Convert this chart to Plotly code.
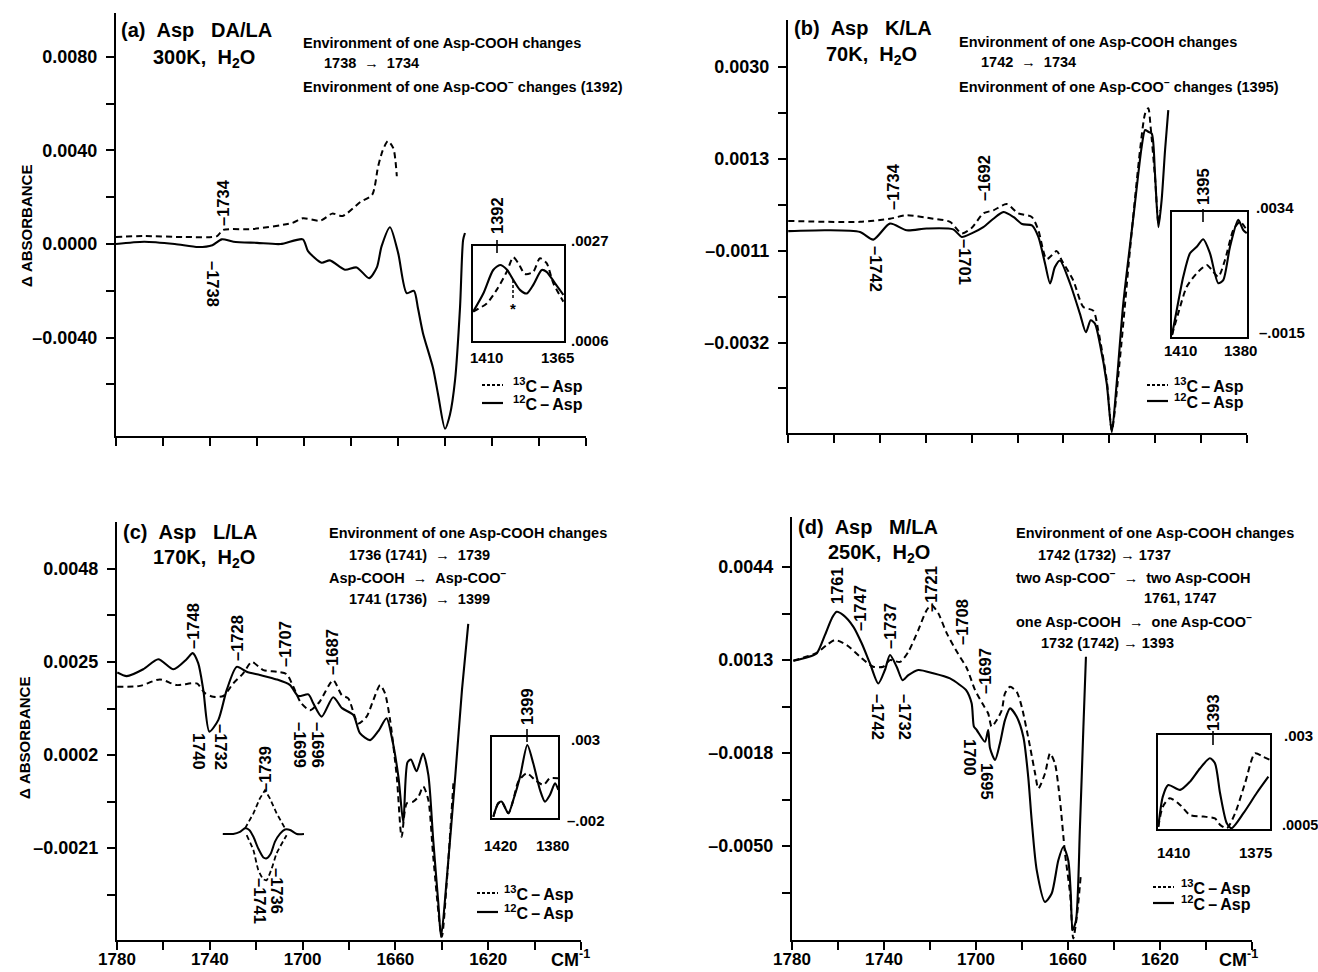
import plotly.graph_objects as go

W, H = 1318, 972
FONT = "Liberation Sans, Arial, Helvetica, sans-serif"

# ---------------- Panel (a)  Asp DA/LA 300K ----------------
a_wn_12C = [1780, 1768, 1755, 1745, 1739, 1735, 1730, 1720, 1710, 1700.5, 1698.3, 1692.5, 1689, 1682.6, 1677.6,
            1672.3, 1669, 1667, 1663.4, 1659.9, 1656.3, 1653.2, 1651.5, 1649.4, 1645.1, 1643.0, 1640.0, 1637.9,
            1635.7, 1633.6, 1632.3, 1631.5]
a_dA_12C = [0.0, 0.0001, 0.0, -0.00013, -0.00005, 0.0002, 0.0001, 0.00005, 0.0, 0.0002, -0.0003, -0.0008, -0.0007,
            -0.0011, -0.0010, -0.00146, -0.0010, -0.0001, 0.00072, -0.0004, -0.0021, -0.0020, -0.00275, -0.0038,
            -0.0053, -0.0064, -0.0079, -0.0073, -0.0058, -0.0027, 0.00017, 0.00047]
a_wn_13C = [1780, 1768, 1751, 1737, 1734.5, 1722, 1705, 1700.5, 1693, 1688, 1683.5, 1676, 1671, 1668.5, 1666.5,
            1664.3, 1662, 1660.5]
a_dA_13C = [0.0003, 0.00034, 0.0003, 0.00034, 0.0006, 0.00064, 0.0009, 0.0011, 0.0010, 0.0013, 0.0012, 0.0018,
            0.0021, 0.0033, 0.0040, 0.0044, 0.0041, 0.0029]
ai_wn_12C = [1409.9, 1404.9, 1400.0, 1396.6, 1393.3, 1390.1, 1386.8, 1383.4, 1380.2, 1376.0, 1373.6, 1369.5, 1365.3]
ai_dA_12C = [0.00125, 0.00165, 0.00217, 0.00228, 0.00218, 0.00195, 0.00173, 0.00165, 0.00184, 0.00217, 0.00213,
             0.00188, 0.00162]
ai_wn_13C = [1409.9, 1403.2, 1398.3, 1393.3, 1390.1, 1387.6, 1384.3, 1380.2, 1376.9, 1373.6, 1370.3, 1365.3]
ai_dA_13C = [0.00125, 0.00143, 0.00173, 0.00213, 0.00245, 0.00232, 0.00208, 0.00213, 0.00243, 0.00232, 0.00188,
             0.00147]

# ---------------- Panel (b)  Asp K/LA 70K ----------------
b_wn_12C = [1779.9, 1763.1, 1748.6, 1742.8, 1735.6, 1728.3, 1719.6, 1708.0, 1704.3, 1700.0, 1694.9, 1690.5, 1686.2,
            1681.8, 1678.0, 1673.7, 1670.9, 1668.0, 1665.8, 1663.7, 1661.5, 1657.1, 1652.8, 1650.2, 1648.1, 1646.2,
            1644.1, 1641.1, 1638.9, 1636.8, 1633.9, 1629.5, 1625.9, 1624.4, 1623.0, 1621.5, 1620.1, 1618.6, 1617.2,
            1615.7, 1614.3]
b_dA_12C = [-0.00070, -0.00068, -0.00072, -0.00089, -0.00053, -0.00068, -0.00064, -0.00066, -0.00083, -0.00075,
            -0.00061, -0.00042, -0.00027, -0.00038, -0.00054, -0.00057, -0.00083, -0.00143, -0.00188, -0.00151,
            -0.00136, -0.00188, -0.00256, -0.00298, -0.00271, -0.00279, -0.00324, -0.00414, -0.00523, -0.00414,
            -0.00233, -0.00038, 0.00120, 0.00158, 0.00154, 0.00150, 0.00060, -0.00061, 0.0, 0.00113, 0.00203]
b_wn_13C = [1779.9, 1748.6, 1735.6, 1728.3, 1716.7, 1709.4, 1704.3, 1700.0, 1694.9, 1690.5, 1684.7, 1679.7, 1673.8,
            1670.9, 1667.3, 1662.9, 1660.7, 1655.7, 1651.3, 1647.0, 1644.8, 1641.1, 1638.9, 1635.3, 1631.0, 1626.6,
            1624.4, 1623.0, 1622.0, 1620.1, 1618.6, 1617.9]
b_dA_13C = [-0.00047, -0.00049, -0.00042, -0.00034, -0.00042, -0.00049, -0.00075, -0.00063, -0.00030, -0.00023,
            -0.00009, -0.00030, -0.00038, -0.00068, -0.00133, -0.00115, -0.00136, -0.00181, -0.00241, -0.00249,
            -0.00294, -0.00407, -0.00519, -0.00354, -0.00113, 0.00113, 0.00195, 0.00207, 0.00165, 0.00052,
            -0.00053, -0.00023]
bi_wn_12C = [1410.0, 1408.1, 1405.5, 1402.8, 1400.1, 1397.5, 1394.8, 1391.5, 1389.5, 1386.8, 1383.5, 1381.5, 1380.1]
bi_dA_12C = [-0.00142, -0.00044, 0.00086, 0.00178, 0.00204, 0.00233, 0.00178, 0.00061, 0.00073, 0.00204, 0.00309,
             0.00269, 0.00257]
bi_wn_13C = [1410.0, 1407.5, 1404.1, 1400.1, 1396.1, 1394.1, 1391.5, 1388.8, 1385.5, 1382.8, 1380.1]
bi_dA_13C = [-0.00142, -0.00057, 0.00047, 0.0010, 0.00132, 0.00113, 0.00086, 0.00152, 0.00269, 0.00302, 0.00269]

# ---------------- Panel (c)  Asp L/LA 170K ----------------
c_wn_12C = [1779.9, 1775.8, 1768.7, 1762.2, 1755.7, 1750.0, 1747.4, 1745.0, 1742.8, 1740.2, 1736.3, 1732.7, 1728.4,
            1724.1, 1718.4, 1711.2, 1705.4, 1701.9, 1697.5, 1695.4, 1691.8, 1686.8, 1683.0, 1678.1, 1675.3, 1670.9,
            1667.4, 1663.8, 1661.5, 1658.7, 1656.6, 1654.8, 1653.3, 1650.9, 1648.1, 1645.8, 1643.7, 1641.5, 1640.3,
            1637.9, 1634.1, 1631.3, 1628.6]
c_dA_12C = [0.00224, 0.00215, 0.00232, 0.00257, 0.00232, 0.00257, 0.00272, 0.00247, 0.00181, 0.00078, 0.00107,
            0.00181, 0.00238, 0.00226, 0.00218, 0.00207, 0.00193, 0.00166, 0.00170, 0.00148, 0.00115, 0.00163,
            0.00136, 0.00119, 0.00074, 0.00057, 0.00079, 0.00111, 0.00062, -0.00034, -0.00147, 0.00002, 0.00009,
            -0.00020, 0.00024, -0.00029, -0.00190, -0.00346, -0.00430, -0.00289, -0.00025, 0.00181, 0.00344]
c_wn_13C = [1779.9, 1770.1, 1761.5, 1754.3, 1745.6, 1742.1, 1738.5, 1734.2, 1729.9, 1725.6, 1721.9, 1716.9, 1711.2,
            1706.9, 1704.0, 1700.7, 1696.8, 1692.9, 1686.8, 1683.1, 1680.3, 1676.0, 1672.4, 1669.5, 1666.6, 1664.5,
            1662.3, 1659.4, 1657.3, 1655.1, 1652.3, 1650.1, 1648.0, 1645.8, 1643.7, 1640.0, 1637.9, 1635.0]
c_dA_13C = [0.00189, 0.00191, 0.00207, 0.00193, 0.00197, 0.00173, 0.00164, 0.00166, 0.00197, 0.00222, 0.00250,
            0.00230, 0.00226, 0.00220, 0.00189, 0.00149, 0.00131, 0.00150, 0.00205, 0.00168, 0.00160, 0.00098,
            0.00115, 0.00156, 0.00193, 0.00173, 0.00107, -0.00034, -0.00182, -0.00099, -0.00095, -0.00083,
            -0.00058, -0.00091, -0.00231, -0.00429, -0.00297, -0.00050]
# schematic band sketch (1739 / 1736 / 1741)
cs_wn_12C = [1734.4, 1729.9, 1727.0, 1724.8, 1723.0, 1721.2, 1719.1, 1716.9, 1715.5, 1713.7, 1711.9, 1709.7, 1707.6,
             1705.4, 1702.5, 1699.4]
cs_dA_12C = [-0.00175, -0.00175, -0.00170, -0.00161, -0.00165, -0.00182, -0.00211, -0.00233, -0.00235, -0.00223,
             -0.00194, -0.00174, -0.00164, -0.00165, -0.00175, -0.00175]
cs_wn_13C_up = [1724.8, 1721.2, 1718.4, 1716.2, 1714.1, 1711.2, 1707.6]
cs_dA_13C_up = [-0.00161, -0.00124, -0.00087, -0.00067, -0.00087, -0.00124, -0.00161]
cs_wn_13C_dn = [1724.1, 1721.2, 1719.1, 1716.9, 1715.5, 1713.3, 1711.2, 1706.9]
cs_dA_13C_dn = [-0.00178, -0.00215, -0.00264, -0.00287, -0.00289, -0.00260, -0.00223, -0.00178]
ci_wn_12C = [1419.2, 1416.2, 1414.1, 1410.1, 1407.1, 1403.0, 1398.6, 1395.0, 1390.9, 1387.9, 1384.9, 1381.8, 1379.8]
ci_dA_12C = [-0.00192, -0.00109, -0.00099, -0.00171, -0.00089, 0.00055, 0.00251, 0.00138, -0.00027, -0.00099,
             -0.00058, 0.00014, -0.00027]
ci_wn_13C = [1419.2, 1416.2, 1414.1, 1410.1, 1407.1, 1404.1, 1399.0, 1393.9, 1388.9, 1384.9, 1379.8]
ci_dA_13C = [-0.00192, -0.00109, -0.00099, -0.00171, -0.00089, 0.00024, 0.00076, 0.00035, 0.00004, 0.00045, 0.00045]

# ---------------- Panel (d)  Asp M/LA 250K ----------------
d_wn_12C = [1779.4, 1773.6, 1769.3, 1765.7, 1762.7, 1760.6, 1757.7, 1753.3, 1749.7, 1746.1, 1742.5, 1739.6, 1737.4,
            1734.5, 1731.9, 1729.4, 1725.1, 1718.6, 1711.3, 1707.0, 1704.3, 1701.9, 1700.9, 1699.7, 1696.1, 1694.7,
            1693.9, 1691.7, 1689.6, 1687.4, 1685.2, 1682.3, 1679.4, 1677.3, 1675.8, 1673.6, 1670.0, 1667.1, 1664.2,
            1662.0, 1659.9, 1658.8, 1658.0, 1656.5, 1654.8, 1653.3, 1652.2]
d_dA_12C = [0.00128, 0.00139, 0.00152, 0.00213, 0.00269, 0.00291, 0.00280, 0.00241, 0.00186, 0.00119, 0.00052,
            0.00097, 0.00147, 0.00108, 0.00063, 0.00080, 0.00097, 0.00086, 0.00069, 0.00047, 0.00030, -0.00014,
            -0.00092, -0.00103, -0.00142, -0.00103, -0.00164, -0.00203, -0.00148, -0.00070, -0.00031, -0.00059,
            -0.00126, -0.00259, -0.00403, -0.00570, -0.00676, -0.00648, -0.00537, -0.00492, -0.00537, -0.00648,
            -0.00770, -0.00737, -0.00426, -0.00092, 0.00141]
d_wn_13C = [1779.4, 1769.3, 1764.9, 1761.3, 1756.2, 1750.4, 1744.7, 1740.3, 1737.4, 1733.0, 1729.4, 1725.1, 1721.4,
            1719.3, 1716.4, 1712.7, 1707.7, 1704.0, 1700.4, 1696.8, 1694.7, 1693.2, 1691.0, 1688.8, 1687.4, 1685.2,
            1682.3, 1680.1, 1676.5, 1674.3, 1672.9, 1670.0, 1667.8, 1665.7, 1663.5, 1661.3, 1659.1, 1657.7, 1656.0,
            1654.5]
d_dA_13C = [0.00128, 0.00154, 0.00180, 0.00197, 0.00180, 0.00141, 0.00108, 0.00108, 0.00130, 0.00124, 0.00158,
            0.00230, 0.00297, 0.00313, 0.00286, 0.00219, 0.00150, 0.00103, 0.00030, -0.00020, -0.00048, -0.00092,
            -0.00070, -0.00037, 0.00019, 0.00041, 0.00024, -0.00026, -0.00159, -0.00248, -0.00298, -0.00248,
            -0.00181, -0.00214, -0.00337, -0.00514, -0.00648, -0.00798, -0.00714, -0.00592]
di_wn_12C = [1409.9, 1408.5, 1406.8, 1403.1, 1400.0, 1396.9, 1393.8, 1392.2, 1390.6, 1388.5, 1387.0, 1383.3, 1379.2,
             1375.5]
di_dA_12C = [0.00056, 0.00136, 0.00167, 0.00154, 0.00176, 0.00211, 0.00238, 0.00225, 0.00145, 0.00065, 0.00052,
             0.00092, 0.00145, 0.00189]
di_wn_13C = [1409.9, 1408.5, 1406.3, 1403.1, 1400.0, 1395.8, 1392.2, 1390.6, 1388.5, 1385.9, 1382.8, 1379.7, 1377.1,
             1375.0]
di_dA_13C = [0.00056, 0.00109, 0.00132, 0.00114, 0.00087, 0.00083, 0.00078, 0.00061, 0.00052, 0.00092, 0.00172,
             0.00251, 0.00242, 0.00234]

# ---------------- ticks ----------------
x_major = [1780, 1740, 1700, 1660, 1620]
x_major_text = ["1780", "1740", "1700", "1660", "1620"]
x_minor = [1760, 1720, 1680, 1640, 1600, 1580]
a_ymajor = [0.008, 0.004, 0.0, -0.004]
a_ytext = ["0.0080", "0.0040", "0.0000", "\u20130.0040"]
a_yminor = [0.006, 0.002, -0.002, -0.006]
b_ymajor = [0.0030, 0.00093, -0.00114, -0.00321]
b_ytext = ["0.0030", "0.0013", "\u20130.0011", "\u20130.0032"]
b_yminor = [0.001965, -0.000105, -0.002175, -0.004245]
c_ymajor = [0.0048, 0.0025, 0.0002, -0.0021]
c_ytext = ["0.0048", "0.0025", "0.0002", "\u20130.0021"]
c_yminor = [0.00365, 0.00135, -0.00095, -0.00325]
d_ymajor = [0.0044, 0.0013, -0.0018, -0.0049]
d_ytext = ["0.0044", "0.0013", "\u20130.0018", "\u20130.0050"]
d_yminor = [0.00285, -0.00025, -0.00335, -0.00645]


def dom_x(x0, x1):
    return [x0 / W, x1 / W]


def dom_y(top, bottom):
    return [1 - bottom / H, 1 - top / H]


fig = go.Figure()

SOLID = dict(color="black", width=2.1, shape="spline", smoothing=0.7)
DASH = dict(color="black", width=2.0, dash="6px,4px", shape="spline", smoothing=0.7)


def add(x, y, ax, line):
    xa = "x" if ax == 1 else f"x{ax}"
    ya = "y" if ax == 1 else f"y{ax}"
    fig.add_trace(go.Scatter(x=x, y=y, mode="lines", line=line, xaxis=xa, yaxis=ya,
                             showlegend=False, hoverinfo="skip"))


add(a_wn_13C, a_dA_13C, 1, DASH)
add(a_wn_12C, a_dA_12C, 1, SOLID)
add(b_wn_13C, b_dA_13C, 2, DASH)
add(b_wn_12C, b_dA_12C, 2, SOLID)
add(c_wn_13C, c_dA_13C, 3, DASH)
add(c_wn_12C, c_dA_12C, 3, SOLID)
add(cs_wn_13C_up, cs_dA_13C_up, 3, dict(color="black", width=1.8, dash="5px,3px"))
add(cs_wn_13C_dn, cs_dA_13C_dn, 3, dict(color="black", width=1.8, dash="5px,3px", shape="spline", smoothing=0.6))
add(cs_wn_12C, cs_dA_12C, 3, dict(color="black", width=2.0, shape="spline", smoothing=0.6))
add(d_wn_13C, d_dA_13C, 4, DASH)
add(d_wn_12C, d_dA_12C, 4, SOLID)
add(ai_wn_13C, ai_dA_13C, 5, DASH)
add(ai_wn_12C, ai_dA_12C, 5, SOLID)
add(bi_wn_13C, bi_dA_13C, 6, DASH)
add(bi_wn_12C, bi_dA_12C, 6, SOLID)
add(ci_wn_13C, ci_dA_13C, 7, DASH)
add(ci_wn_12C, ci_dA_12C, 7, SOLID)
add(di_wn_13C, di_dA_13C, 8, DASH)
add(di_wn_12C, di_dA_12C, 8, SOLID)

TICKFONT = dict(family=FONT, size=18, color="black", weight="bold")


def minor(vals):
    return dict(tickmode="array", tickvals=vals, ticks="outside", ticklen=8, tickwidth=2, tickcolor="black",
                showgrid=False)


def main_x(domain, anchor, labels):
    return dict(domain=domain, anchor=anchor, range=[1780, 1580], autorange=False, automargin=False,
                showline=True, linecolor="black", linewidth=2, ticks="outside", ticklen=8,
                tickwidth=2, tickcolor="black", tickmode="array", tickvals=x_major, ticktext=x_major_text,
                showticklabels=labels, minor=minor(x_minor),
                showgrid=False, zeroline=False, tickfont=dict(family=FONT, size=17, color="black", weight="bold"),
                ticklabelstandoff=-5)


def main_y(domain, anchor, rng, tv, tt, mv):
    return dict(domain=domain, anchor=anchor, range=rng, autorange=False, automargin=False,
                showline=True, linecolor="black", linewidth=2, ticks="outside", ticklen=8,
                tickwidth=2, tickcolor="black", tickmode="array", tickvals=tv, ticktext=tt, minor=minor(mv),
                showgrid=False, zeroline=False, tickfont=TICKFONT, ticklabelstandoff=5)


def inset_ax(domain, anchor, rng):
    return dict(domain=domain, anchor=anchor, range=rng, autorange=False, automargin=False, showline=True,
                mirror=True, linecolor="black", linewidth=2, ticks="", showticklabels=False, showgrid=False,
                zeroline=False)


layout = dict(
    template="none",
    width=W, height=H, margin=dict(l=0, r=0, t=0, b=0, pad=0, autoexpand=False),
    paper_bgcolor="white", plot_bgcolor="rgba(0,0,0,0)",
    font=dict(family=FONT, color="black"), showlegend=False,
    xaxis=main_x(dom_x(116, 586), "y", False),
    yaxis=main_y(dom_y(13, 436), "x", [-0.00821, 0.00988], a_ymajor, a_ytext, a_yminor),
    xaxis2=main_x(dom_x(788, 1247), "y2", False),
    yaxis2=main_y(dom_y(20, 433), "x2", [-0.00525, 0.00406], b_ymajor, b_ytext, b_yminor),
    xaxis3=main_x(dom_x(117, 581), "y3", True),
    yaxis3=main_y(dom_y(522, 940), "x3", [-0.00437, 0.00596], c_ymajor, c_ytext, c_yminor),
    xaxis4=main_x(dom_x(792, 1252), "y4", True),
    yaxis4=main_y(dom_y(517, 940), "x4", [-0.00803, 0.00607], d_ymajor, d_ytext, d_yminor),
    xaxis5=inset_ax(dom_x(473, 564), "y5", [1410, 1365]),
    yaxis5=inset_ax(dom_y(246, 341), "x5", [0.0006, 0.0027]),
    xaxis6=inset_ax(dom_x(1172, 1247), "y6", [1410, 1380]),
    yaxis6=inset_ax(dom_y(212, 337), "x6", [-0.0015, 0.0034]),
    xaxis7=inset_ax(dom_x(492, 558), "y7", [1420, 1380]),
    yaxis7=inset_ax(dom_y(737, 818), "x7", [-0.002, 0.003]),
    xaxis8=inset_ax(dom_x(1158, 1270), "y8", [1410, 1375]),
    yaxis8=inset_ax(dom_y(735, 829), "x8", [0.0005, 0.003]),
)
fig.update_layout(**layout)

ann = []


def A(text, x, y, size=14.5, xanchor="left", angle=0):
    ann.append(dict(text=text, x=x / W, y=1 - y / H, xref="paper", yref="paper", showarrow=False,
                    xanchor=xanchor, yanchor="middle", textangle=angle, borderpad=0,
                    font=dict(family=FONT, size=size, color="black", weight="bold")))


NB = "\u00a0"
AR = NB + NB + "\u2192" + NB + NB
# titles
for t, x, y in [("(a)" + NB * 2 + "Asp" + NB * 3 + "DA/LA", 120, 30), ("300K," + NB * 2 + "H<sub>2</sub>O", 152, 58),
                ("(b)" + NB * 2 + "Asp" + NB * 3 + "K/LA", 793, 28), ("70K," + NB * 2 + "H<sub>2</sub>O", 825, 56),
                ("(c)" + NB * 2 + "Asp" + NB * 3 + "L/LA", 122, 532), ("170K," + NB * 2 + "H<sub>2</sub>O", 152, 558),
                ("(d)" + NB * 2 + "Asp" + NB * 3 + "M/LA", 797, 527), ("250K," + NB * 2 + "H<sub>2</sub>O", 827, 553)]:
    A(t, x, y, size=20)

COO = "Asp-COO<sup>\u2212</sup>"
ENV = "Environment of one Asp-COOH changes"
for t, x, y in [(ENV, 302, 43), ("1738" + AR + "1734", 323, 63), ("Environment of one " + COO + " changes (1392)", 302, 86),
                (ENV, 958, 42), ("1742" + AR + "1734", 980, 62), ("Environment of one " + COO + " changes (1395)", 958, 86),
                (ENV, 328, 533), ("1736 (1741)" + AR + "1739", 348, 555), ("Asp-COOH" + AR + COO, 328, 577),
                ("1741 (1736)" + AR + "1399", 348, 599),
                (ENV, 1015, 533), ("1742 (1732)" + NB + "\u2192" + NB + "1737", 1037, 555),
                ("two " + COO + AR + "two Asp-COOH", 1015, 577), ("1761, 1747", 1143, 598),
                ("one Asp-COOH" + AR + "one " + COO, 1015, 621), ("1732 (1742)" + NB + "\u2192" + NB + "1393", 1040, 643)]:
    A(t, x, y, size=14.5)

# peak labels
D = "\u2013"
for t, x, y, ang in [(D + "1734", 223, 203, -90), (D + "1738", 213, 284, 90),
                     (D + "1734", 893, 187, -90), (D + "1692", 984, 178, -90), (D + "1742", 876, 269, 90),
                     (D + "1701", 965, 262, 90),
                     (D + "1748", 193, 626, -90), (D + "1728", 237, 638, -90), (D + "1707", 285, 644, -90),
                     (D + "1687", 332, 652, -90), ("1740", 199, 751, 90), (D + "1732", 221, 747, 90),
                     (D + "1699", 300, 745, 90), (D + "1696", 318, 745, 90), (D + "1739", 265, 769, -90),
                     (D + "1736", 277, 891, 90), (D + "1741", 260, 901, 90),
                     ("1761", 837, 586, -90), (D + "1747", 860, 608, -90), (D + "1737", 890, 626, -90),
                     (D + "1721", 931, 589, -90), (D + "1708", 962, 622, -90), (D + "1697", 985, 671, -90),
                     (D + "1742", 878, 717, 90), (D + "1732", 905, 717, 90), ("1700", 970, 757, 90),
                     ("1695", 987, 782, 90),
                     ("1392", 497, 216, -90), ("1395", 1203, 187, -90), ("1399", 527, 707, -90),
                     ("1393", 1213, 713, -90)]:
    A(t, x, y, size=16.5, xanchor="center", angle=ang)

# inset tick labels
for t, x, y, xa in [(".0027", 570, 240, "left"), (".0006", 570, 340, "left"), ("1410", 486, 358, "center"),
                    ("1365", 557, 358, "center"),
                    (".0034", 1255, 207, "left"), (D + ".0015", 1258, 333, "left"), ("1410", 1180, 350, "center"),
                    ("1380", 1240, 350, "center"),
                    (".003", 570, 739, "left"), (D + ".002", 566, 820, "left"), ("1420", 500, 845, "center"),
                    ("1380", 552, 845, "center"),
                    (".003", 1283, 735, "left"), (".0005", 1281, 825, "left"), ("1410", 1173, 852, "center"),
                    ("1375", 1255, 852, "center")]:
    A(t, x, y, size=15 if t != ".0005" else 14.5, xanchor=xa)

A("*", 513, 308, size=15, xanchor="center")

# legends
for x, y in [(512, 385), (1173, 385), (503, 893), (1180, 887)]:
    A("<sup>13</sup>C\u2009\u2013\u2009Asp", x, y, size=16)
for x, y in [(512, 403), (1173, 401), (503, 912), (1180, 903)]:
    A("<sup>12</sup>C\u2009\u2013\u2009Asp", x, y, size=16)

# axis titles and units
A("\u0394 ABSORBANCE", 26, 226, size=15, xanchor="center", angle=-90)
A("\u0394 ABSORBANCE", 24, 738, size=15, xanchor="center", angle=-90)
A("CM<sup>-1</sup>", 570, 958, size=18, xanchor="center")
A("CM<sup>-1</sup>", 1238, 958, size=18, xanchor="center")

shapes = []


def L(x0, y0, x1, y1, dash="solid", width=2):
    shapes.append(dict(type="line", xref="paper", yref="paper", x0=x0 / W, x1=x1 / W, y0=1 - y0 / H,
                       y1=1 - y1 / H, line=dict(color="black", width=width, dash=dash)))


for x0, x1, yd, ys in [(482, 503, 385, 403), (1147, 1168, 385, 401), (477, 498, 893, 912), (1153, 1174, 887, 903)]:
    L(x0, yd, x1, yd, dash="3px,2px", width=1.8)
    L(x0, ys, x1, ys, width=2.2)
# peak markers on inset frames
L(497, 240, 497, 253, width=1.6)
L(1203, 209, 1203, 222, width=1.6)
L(527, 729, 527, 742, width=1.6)
L(1213, 731, 1213, 745, width=1.6)
L(513, 280, 513, 298, dash="3px,2px", width=1.5)

fig.update_layout(annotations=ann, shapes=shapes)

fig.write_html("out.html", include_plotlyjs=True, config={"displayModeBar": False},
               post_script="document.body.style.margin='0px';")
